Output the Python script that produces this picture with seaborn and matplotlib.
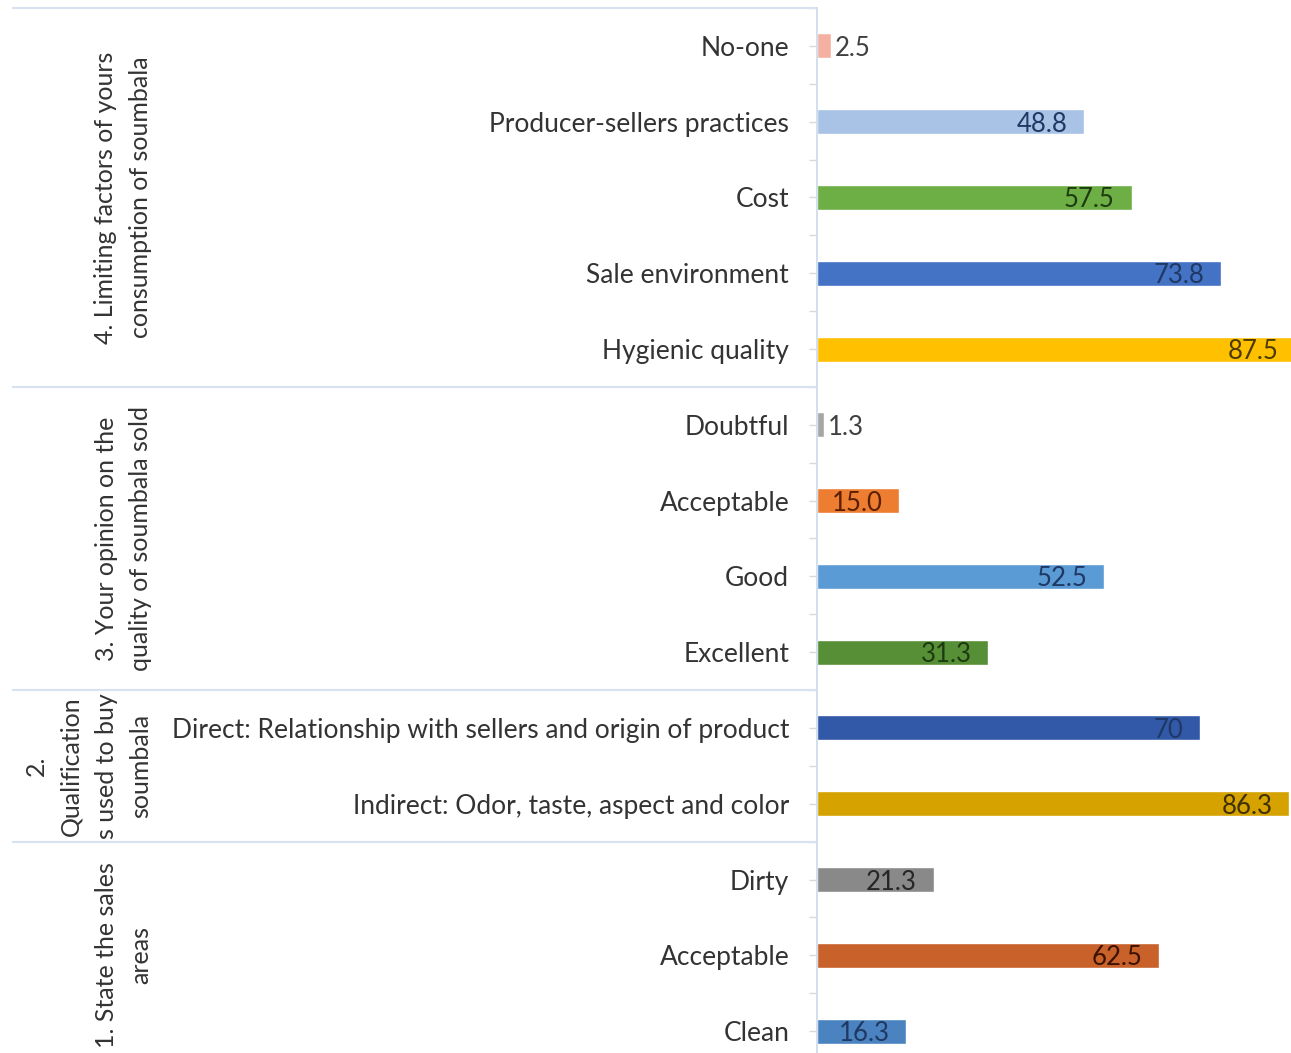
import numpy as np
import pandas as pd
import matplotlib
matplotlib.use("Agg")
import matplotlib.pyplot as plt
import seaborn as sns
from matplotlib.transforms import blended_transform_factory

# ---------------- data ----------------
group_titles = [
    "4. Limiting factors of yours\nconsumption of soumbala",
    "3. Your opinion on the\nquality of soumbala sold",
    "2.\nQualification\ns used to buy\nsoumbala",
    "1. State the sales\nareas",
]
group_sizes = [5, 4, 2, 3]

categories = [
    "No-one", "Producer-sellers practices", "Cost", "Sale environment", "Hygienic quality",
    "Doubtful", "Acceptable", "Good", "Excellent",
    "Direct: Relationship with sellers and origin of product",
    "Indirect: Odor, taste, aspect and color",
    "Dirty", "Acceptable", "Clean",
]
values = [2.5, 48.8, 57.5, 73.8, 87.5,
          1.3, 15.0, 52.5, 31.3,
          70, 86.3,
          21.3, 62.5, 16.3]
value_text = ["2.5", "48.8", "57.5", "73.8", "87.5",
              "1.3", "15.0", "52.5", "31.3",
              "70", "86.3",
              "21.3", "62.5", "16.3"]

# ---------------- style ----------------
bar_colors = ["#F4B1A1", "#A9C3E6", "#6DAE45", "#4472C4", "#FFC000",
              "#A6A6A6", "#ED7D31", "#5B9BD5", "#568F36",
              "#3159A8", "#D5A200",
              "#898989", "#C8612A", "#4A83BF"]
text_colors = ["#404040", "#1F3864", "#1E3B10", "#1F3864", "#4D3A00",
               "#404040", "#5A1E00", "#1F3864", "#1E3B10",
               "#1F3864", "#403000",
               "#262626", "#3B1200", "#1F3864"]

sns.set_theme(style="white")
plt.rcParams["font.family"] = ["Lato", "DejaVu Sans"]

W, H = 1291, 1053
px_per_unit = 5.47
fig = plt.figure(figsize=(W / 100, H / 100), dpi=100)
fig.patch.set_facecolor("white")
ax = fig.add_axes([817 / W, 1 - 1069 / H, (W - 817) / W, (1069 - 8) / H])

n = len(values)
df = pd.DataFrame({"row": [f"r{i}" for i in range(n)], "value": values})
sns.barplot(data=df, y="row", x="value", hue="row", palette=bar_colors,
            legend=False, width=0.33, saturation=1, ax=ax, orient="h")

ax.set_xlim(0, (W - 817) / px_per_unit)
ax.set_ylim(n - 0.5, -0.5)
ax.set_xlabel("")
ax.set_ylabel("")
ax.set_xticks([])
ax.set_yticks(np.arange(n))
ax.set_yticklabels(categories)
ax.set_yticks(np.arange(n + 1) - 0.5, minor=True)
ax.tick_params(axis="y", which="both", left=True, length=6, width=1,
               color="#D9D9D9", direction="out")
ax.tick_params(axis="y", which="major", pad=14, labelsize=19, labelcolor="#333333")
for lab in ax.get_yticklabels():
    lab.set_verticalalignment("center_baseline")
for s in ["top", "right", "bottom"]:
    ax.spines[s].set_visible(False)
ax.spines["left"].set_color("#D3DFEE")
ax.spines["left"].set_linewidth(1.4)

# value labels
for i, (v, t) in enumerate(zip(values, value_text)):
    if v < 5:
        ax.annotate(t, (v, i), xytext=(3, 0), textcoords="offset points",
                    ha="left", va="center_baseline", fontsize=18.5,
                    color=text_colors[i], annotation_clip=False)
    else:
        ax.annotate(t, (v, i), xytext=(-12, 0), textcoords="offset points",
                    ha="right", va="center_baseline", fontsize=18.5,
                    color=text_colors[i], annotation_clip=False)

# group separators and titles
tr = blended_transform_factory(fig.transFigure, ax.transData)
start = 0
bounds = [-0.5]
for title, size in zip(group_titles, group_sizes):
    yc = start + (size - 1) / 2
    lines = title.split("\n")
    nl = len(lines)
    for j, line in enumerate(lines):
        xpx = 141 - (nl - 1 - j) * 35
        ax.text(xpx / W, yc, line, transform=tr, rotation=90, ha="center",
                va="center", fontsize=18, color="#333333", clip_on=False)
    start += size
    bounds.append(start - 0.5)
for b in bounds[:-1]:
    ax.plot([12 / W, 817 / W], [b, b], transform=tr, color="#D6E2F0", lw=1.5,
            clip_on=False, solid_capstyle="butt")

fig.savefig("out.png", dpi=100, facecolor="white")
